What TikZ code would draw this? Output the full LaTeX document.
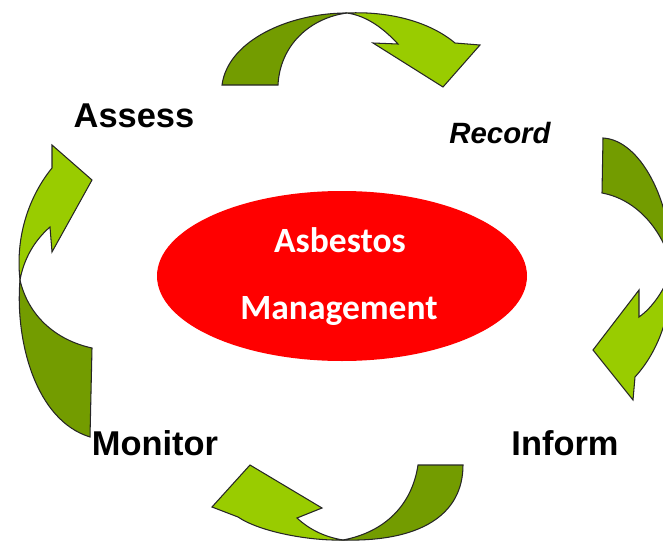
\documentclass[tikz,border=0pt]{standalone}
\usepackage{fontspec}
\setmainfont{Liberation Sans}
\newfontfamily\ovalfont{Carlito}
\usepackage{tikz}

\definecolor{leafdark}{RGB}{115,156,0}
\definecolor{leaflight}{RGB}{153,204,0}

\begin{document}
\begin{tikzpicture}[x=0.02cm, y=-0.02cm,
  back/.style = {fill=leafdark, draw=black!85, line width=0.6pt, line join=miter},
  front/.style = {fill=leaflight, draw=black!85, line width=0.6pt, line join=miter},
  stage/.style = {anchor=base, inner sep=0pt, font=\fontsize{19.6}{22}\selectfont\bfseries}]
\useasboundingbox (0,0) rectangle (663,541);

% red oval in the middle
\fill[red] (342,276) ellipse (185 and 85);
\node[anchor=base, inner sep=0pt, text=white, font=\ovalfont\fontsize{20.2}{24}\selectfont\bfseries] (asb) at (340,252) {Asbestos};
\node[anchor=base, inner sep=0pt, text=white, font=\ovalfont\fontsize{20.2}{24}\selectfont\bfseries] (mgt) at (339,319) {Management};

\begin{scope}
\clip (0,0) rectangle (663,541);
% top arrow
\draw[back] (347,13) .. controls (290,13) and (228,40) .. (222,85) -- (278,85)
  .. controls (280,45) and (310,18) .. cycle;
\draw[front] (347,13) .. controls (390,11) and (430,22) .. (455,43) -- (480,45) -- (443,87)
  -- (373,43) -- (398,44) .. controls (385,30) and (368,16) .. cycle;
% right arrow
\draw[back] (603,138) .. controls (640,140) and (672,200) .. (672,268)
  .. controls (665,235) and (640,200) .. (602,193) -- cycle;
\draw[front] (672,268) .. controls (672,320) and (655,355) .. (635,377) -- (633,400) -- (593,350)
  -- (639,290) -- (639,317) .. controls (652,308) and (665,290) .. cycle;
% bottom arrow
\draw[back] (343,540) .. controls (420,542) and (463,515) .. (463,465) -- (418,465)
  .. controls (412,505) and (385,532) .. cycle;
\draw[front] (343,540) .. controls (310,541) and (260,532) .. (238,517) -- (212,507) -- (250,465)
  -- (322,508) -- (297,518) .. controls (310,530) and (325,537) .. cycle;
% left arrow
\draw[back] (20,280) .. controls (15,340) and (35,420) .. (90,437) -- (92,348)
  .. controls (55,340) and (28,315) .. cycle;
\draw[front] (20,280) .. controls (15,235) and (30,195) .. (52,168) -- (52,145) -- (92,180)
  -- (52,252) -- (50,227) .. controls (35,240) and (24,258) .. cycle;
\end{scope}

% stage labels
\node[stage] (assess) at (134,127) {Assess};
\node[stage, font=\fontsize{16.7}{20}\selectfont\bfseries\itshape] (record) at (500,143) {Record};
\node[stage] (inform) at (565,455) {Inform};
\node[stage] (monitor) at (155,455) {Monitor};
\end{tikzpicture}
\end{document}
